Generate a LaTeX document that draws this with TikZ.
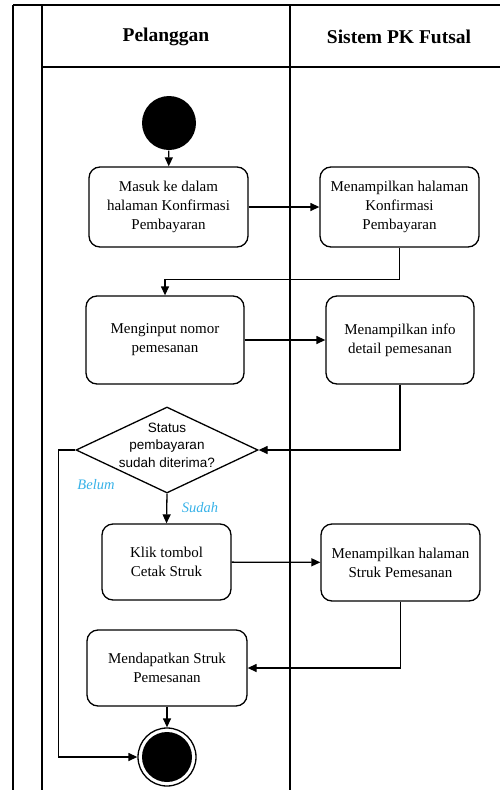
\documentclass[tikz,border=0pt]{standalone}
\usepackage{fontspec}
\setmainfont{Liberation Serif}
\newfontfamily\diafont{Liberation Sans}
\usetikzlibrary{arrows.meta,shapes.geometric}
\definecolor{guardblue}{RGB}{56,178,232}
\begin{document}
\begin{tikzpicture}[x=1pt,y=-1pt,
  line width=1.3pt,
  lane/.style={line width=1.3pt},
  action/.style={draw,rounded corners=11pt,align=center,inner sep=0pt,
    font=\fontsize{15}{19}\selectfont},
  flow/.style={-{Triangle[length=9pt,width=8pt]}},
  guard/.style={text=guardblue,font=\fontsize{14.5}{17}\selectfont\itshape},
  header/.style={font=\fontsize{19.5}{22}\selectfont\bfseries}]
\useasboundingbox (0,0) rectangle (500,790);

% swimlane frame
\draw[lane] (13,5) -- (500,5);
\draw[lane] (13,5) -- (13,790);
\draw[lane] (42,5) -- (42,790);
\draw[lane] (290,5) -- (290,790);
\draw[lane] (42,67) -- (500,67);
\node[header] (lanecust) at (166,37) {Pelanggan};
\node[header] (lanesys) at (399,37) {Sistem PK Futsal};

% start and end
\node[circle,fill=black,minimum size=54pt,inner sep=0pt] (start) at (169,123) {};
\node[circle,draw,minimum size=58pt,inner sep=0pt] (end) at (167,757) {};
\fill (end.center) circle (25pt);

% actions
\node[action,minimum width=159pt,minimum height=80pt] (b1) at (168.5,207)
  {Masuk ke dalam\\halaman Konfirmasi\\Pembayaran};
\node[action,minimum width=159pt,minimum height=80pt] (b2) at (399.5,207)
  {Menampilkan halaman\\Konfirmasi\\Pembayaran};
\node[action,minimum width=158pt,minimum height=88pt] (b3) at (165,340)
  {Menginput nomor\\pemesanan};
\node[action,minimum width=148pt,minimum height=88pt] (b4) at (400,340)
  {Menampilkan info\\detail pemesanan};
\node[draw,diamond,minimum width=182pt,minimum height=86pt,inner sep=0pt] (dec) at (167,450) {};
\node[align=center,font=\diafont\fontsize{13.5}{17.5}\selectfont] (dectext) at (167,445)
  {Status\\pembayaran\\sudah diterima?};
\node[action,minimum width=129pt,minimum height=76pt] (b5) at (166.5,562)
  {Klik tombol\\Cetak Struk};
\node[action,minimum width=159pt,minimum height=77pt] (b6) at (400.5,562.5)
  {Menampilkan halaman\\Struk Pemesanan};
\node[action,minimum width=160pt,minimum height=76pt] (b7) at (167,668)
  {Mendapatkan Struk\\Pemesanan};

% control flow
\draw[flow] (start) -- (b1);
\draw[flow] (b1) -- (b2);
\draw[flow] (b2.south) -- ++(0,32) -| (b3.north);
\draw[flow] (b3) -- (b4);
\draw[flow] (b4.south) |- (dec.east);
\draw[flow] (dec.south) -- (b5.north);
\draw[flow] (b5) -- (b6);
\draw[flow] (b6.south) |- (b7.east);
\draw[flow] (b7.south) -- (end.north);
\draw[flow] (dec.west) -- ++(-17,0) |- (end.west);

% guards
\node[guard] (belum) at (96,485) {Belum};
\node[guard] (sudah) at (200,508) {Sudah};
\end{tikzpicture}
\end{document}
